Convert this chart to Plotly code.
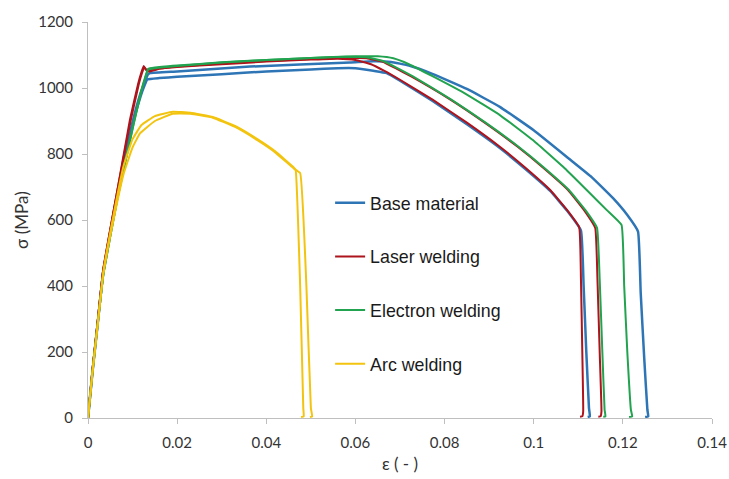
import plotly.graph_objects as go

# ---- data (strain [-], stress [MPa]) ----
base1_strain = [0, 0.001, 0.0022, 0.0034, 0.0062, 0.0098, 0.0118, 0.0127, 0.0133, 0.016, 0.02, 0.03, 0.04, 0.05,
                0.056, 0.060, 0.064, 0.067, 0.070, 0.0774, 0.085, 0.0924, 0.098, 0.1037, 0.1075, 0.1106,
                0.1112, 0.1118, 0.1124, 0.1126, 0.1121]
base1_stress = [0, 140, 290, 440, 650, 880, 975, 1008, 1026, 1030, 1034, 1042, 1050, 1056,
                1060, 1060, 1052, 1045, 1022, 960, 890, 818, 756, 688, 628, 568,
                400, 200, 30, 5, 3]

base2_strain = [0, 0.001, 0.0022, 0.0034, 0.0062, 0.0098, 0.0118, 0.0128, 0.0134, 0.0139, 0.02, 0.0363, 0.0588,
                0.064, 0.068, 0.072, 0.0774, 0.085, 0.0924, 0.100, 0.1078, 0.1130, 0.1178, 0.1210, 0.1234,
                0.1240, 0.1248, 0.1255, 0.1257, 0.1250]
base2_stress = [0, 140, 290, 440, 650, 885, 985, 1020, 1040, 1045, 1050, 1065, 1077,
                1081, 1079, 1068, 1042, 997, 943, 872, 787, 730, 666, 615, 565,
                380, 180, 25, 5, 3]

laser1_strain = [0, 0.001, 0.0022, 0.0034, 0.0064, 0.0094, 0.0112, 0.0120, 0.0125, 0.0132, 0.015, 0.02, 0.03,
                 0.04, 0.05, 0.056, 0.060, 0.0635, 0.0665, 0.070, 0.0774, 0.085, 0.0924, 0.098, 0.1037, 0.1075,
                 0.1102, 0.1106, 0.1109, 0.1111, 0.1109, 0.1104]
laser1_stress = [0, 145, 297, 448, 676, 903, 1010, 1048, 1067, 1052, 1058, 1064, 1072,
                 1080, 1086, 1089, 1085, 1072, 1052, 1025, 964, 895, 822, 760, 691, 630,
                 578, 420, 200, 20, 5, 4]

laser2_strain = [0, 0.001, 0.0022, 0.0034, 0.0064, 0.0096, 0.0114, 0.0121, 0.0126, 0.0135, 0.016, 0.02, 0.03,
                 0.04, 0.05, 0.058, 0.0625, 0.066, 0.069, 0.0725, 0.0814, 0.089, 0.0964, 0.102, 0.1077, 0.1113,
                 0.1138, 0.1143, 0.1148, 0.1152, 0.1150, 0.1145]
laser2_stress = [0, 145, 297, 448, 676, 903, 1012, 1045, 1062, 1050, 1058, 1065, 1074,
                 1082, 1088, 1092, 1090, 1080, 1060, 1035, 964, 895, 822, 760, 691, 630,
                 576, 420, 200, 20, 5, 4]

electron1_strain = [0, 0.001, 0.0022, 0.0035, 0.0066, 0.0102, 0.0120, 0.0128, 0.0135, 0.015, 0.02, 0.03, 0.04,
                    0.05, 0.058, 0.0625, 0.0662, 0.0692, 0.0728, 0.0816, 0.0892, 0.0966, 0.1022, 0.1079, 0.1116,
                    0.1142, 0.1148, 0.1154, 0.1159, 0.1161, 0.1156]
electron1_stress = [0, 140, 290, 440, 665, 890, 995, 1032, 1058, 1062, 1068, 1078, 1085,
                    1091, 1095, 1093, 1082, 1062, 1036, 964, 895, 822, 760, 691, 630,
                    576, 420, 200, 25, 5, 4]

electron2_strain = [0, 0.001, 0.0022, 0.0035, 0.0066, 0.0102, 0.0120, 0.0128, 0.0135, 0.015, 0.02, 0.03, 0.04,
                    0.05, 0.06, 0.065, 0.0685, 0.072, 0.0774, 0.085, 0.0924, 0.100, 0.1074, 0.1164, 0.1197,
                    0.1203, 0.1210, 0.1218, 0.1221, 0.1214]
electron2_stress = [0, 140, 290, 440, 665, 888, 992, 1028, 1056, 1060, 1067, 1077, 1085,
                    1091, 1096, 1096, 1090, 1072, 1035, 980, 918, 840, 751, 630, 585,
                    400, 200, 25, 5, 3]

arc1_strain = [0, 0.001, 0.0022, 0.0034, 0.0058, 0.008, 0.010, 0.012, 0.015, 0.019, 0.023, 0.028, 0.033,
               0.038, 0.042, 0.0461, 0.0466, 0.0476, 0.0483, 0.0484, 0.0478]
arc1_stress = [0, 140, 290, 440, 620, 765, 845, 888, 915, 928, 925, 912, 885,
               845, 808, 760, 750, 400, 30, 5, 3]

arc2_strain = [0, 0.001, 0.0022, 0.0034, 0.0058, 0.008, 0.010, 0.0117, 0.015, 0.019, 0.023, 0.028, 0.033,
               0.038, 0.042, 0.0461, 0.0476, 0.0490, 0.0500, 0.0503, 0.0498]
arc2_stress = [0, 138, 285, 432, 605, 740, 820, 863, 900, 922, 922, 910, 882,
               842, 805, 757, 742, 400, 30, 5, 3]

series_names = ["Base material", "Laser welding", "Electron welding", "Arc welding"]
series_colors = ["#2e75b6", "#ad141c", "#22a34f", "#f2c40f"]
series_widths = [2.5, 2, 2, 2]
specimens = [
    [(base1_strain, base1_stress), (base2_strain, base2_stress)],
    [(laser1_strain, laser1_stress), (laser2_strain, laser2_stress)],
    [(electron1_strain, electron1_stress), (electron2_strain, electron2_stress)],
    [(arc1_strain, arc1_stress), (arc2_strain, arc2_stress)],
]

x_ticks = [0, 0.02, 0.04, 0.06, 0.08, 0.1, 0.12, 0.14]
x_tick_labels = ["0", "0.02", "0.04", "0.06", "0.08", "0.1", "0.12", "0.14"]
y_ticks = [0, 200, 400, 600, 800, 1000, 1200]

fig = go.Figure()
for name, color, width, pairs in zip(series_names, series_colors, series_widths, specimens):
    for i, (xs, ys) in enumerate(pairs):
        fig.add_trace(go.Scatter(
            x=xs, y=ys, mode="lines", name=name, legendgroup=name,
            showlegend=(i == 0),
            line=dict(color=color, width=width, shape="spline", smoothing=0.3),
        ))

axis_gray = "#bfbfbf"
fig.update_layout(
    width=729, height=479,
    margin=dict(l=88, r=17, t=22, b=61),
    paper_bgcolor="white", plot_bgcolor="white",
    font=dict(family="Lato", size=15, color="#333333"),
    legend=dict(
        x=0.388, y=0.589, xanchor="left", yanchor="top",
        font=dict(family="Liberation Sans", size=17.8, color="#1a1a1a"),
        traceorder="grouped", tracegroupgap=27.5,
        bgcolor="rgba(0,0,0,0)",
    ),
    xaxis=dict(
        range=[0, 0.14], tickvals=x_ticks, ticktext=x_tick_labels,
        showgrid=False, zeroline=False, automargin=False,
        showline=True, linecolor=axis_gray, linewidth=1,
        ticks="outside", ticklen=5, tickcolor=axis_gray,
        ticklabelstandoff=6,
        title=dict(text="ε ( - )", font=dict(size=17), standoff=8),
    ),
    yaxis=dict(
        range=[0, 1200], tickvals=y_ticks,
        showgrid=False, zeroline=False, automargin=False,
        showline=True, linecolor=axis_gray, linewidth=1,
        ticks="outside", ticklen=5, tickcolor=axis_gray,
        ticklabelstandoff=6,
        title=dict(text="σ (MPa)", font=dict(size=17), standoff=5),
    ),
)

fig.write_html("out.html")
